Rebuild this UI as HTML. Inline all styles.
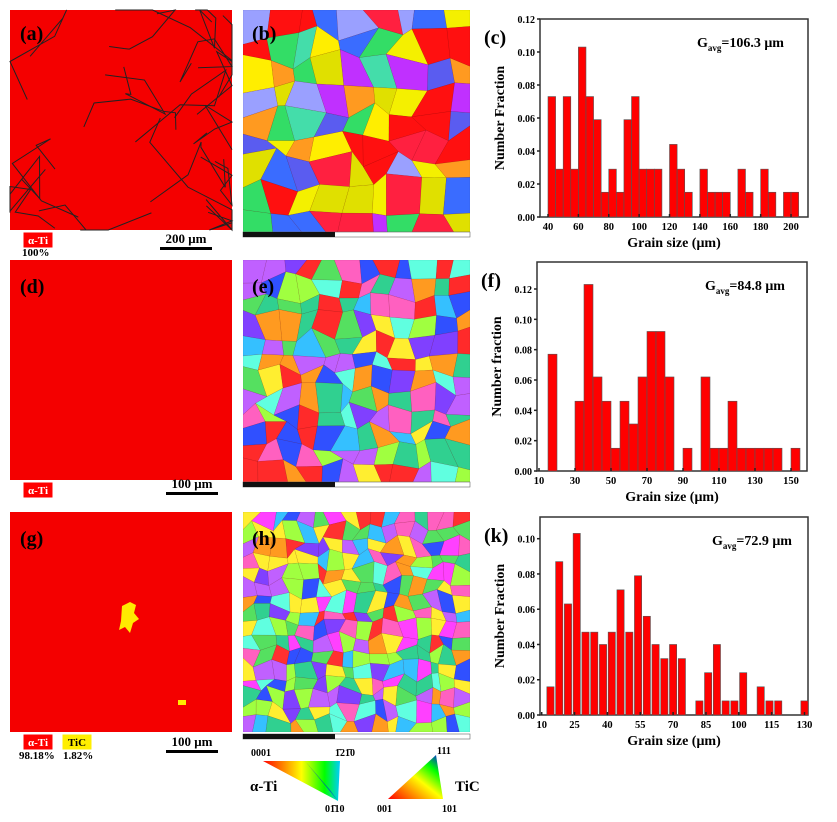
<!DOCTYPE html>
<html><head><meta charset="utf-8">
<style>
body{margin:0;background:#fff;width:837px;height:822px;overflow:hidden;font-family:"Liberation Serif",serif}
svg{position:absolute;left:0;top:0}
text{font-family:"Liberation Serif",serif;font-weight:bold}
</style></head>
<body>
<svg id="fig" width="837" height="822" viewBox="0 0 837 822"></svg>
<script>
// ---- histogram data ----
const cStarts=[40,45,50,55,60,65,70,75,80,85,90,95,100,105,110,115,120,125,130,135,140,145,150,155,160,165,170,175,180,185,190,195,200];
const cVals=[0.073,0.029,0.073,0.029,0.103,0.073,0.059,0.015,0.029,0.015,0.059,0.073,0.029,0.029,0.029,0,0.044,0.029,0.015,0,0.029,0.015,0.015,0.015,0,0.029,0.015,0,0.029,0.015,0,0.015,0.015];
const cXTicks=[40,60,80,100,120,140,160,180,200];
const cYTicks=[0,0.02,0.04,0.06,0.08,0.10,0.12];
const fStarts=[15,20,25,30,35,40,45,50,55,60,65,70,75,80,85,90,95,100,105,110,115,120,125,130,135,140,145,150];
const fVals=[0.077,0,0,0.046,0.123,0.062,0.046,0.015,0.046,0.031,0.062,0.092,0.092,0.062,0,0.015,0,0.062,0.015,0.015,0.046,0.015,0.015,0.015,0.015,0.015,0,0.015];
const fXTicks=[10,30,50,70,90,110,130,150];
const fYTicks=[0,0.02,0.04,0.06,0.08,0.10,0.12];
const kCenters=[14,18,22,26,30,34,38,42,46,50,54,58,62,66,70,74,78,82,86,90,94,98,102,106,110,114,118,122,126,130];
const kVals=[0.016,0.087,0.063,0.103,0.047,0.047,0.040,0.047,0.071,0.047,0.079,0.056,0.040,0.032,0.040,0.032,0,0.008,0.024,0.040,0.008,0.008,0.024,0,0.016,0.008,0.008,0,0,0.008];
const kXTicks=[10,25,40,55,70,85,100,115,130];
const kYTicks=[0,0.02,0.04,0.06,0.08,0.10];

const NS="http://www.w3.org/2000/svg";
const svg=document.getElementById('fig');
function mk(tag,attrs,parent){const e=document.createElementNS(NS,tag);for(const k in attrs)e.setAttribute(k,attrs[k]);(parent||svg).appendChild(e);return e;}
function txt(s,attrs,parent){const e=mk('text',attrs,parent);e.textContent=s;return e;}

function histogram(name,cfg,starts,vals,xt,yt,width,centered){
  const g=mk('g',{});
  
  
  const X=v=>cfg.x0+(v-cfg.v0)*cfg.sx;
  const Y=v=>cfg.yb-v*cfg.sy;
  const fr=mk('rect',{x:cfg.l,y:cfg.t,width:cfg.r-cfg.l,height:cfg.yb-cfg.t,fill:'#fff',stroke:'#333','stroke-width':1.5},g);
  
  
  starts.forEach((s,i)=>{
    if(vals[i]<=0)return;
    const x1=centered?X(s-width/2):X(s), x2=centered?X(s+width/2):X(s+width);
    const b=mk('rect',{x:x1,y:Y(vals[i]),width:x2-x1,height:Y(0)-Y(vals[i]),fill:'#f00',stroke:'#555','stroke-width':0.6},g);
    
    
  });
  xt.forEach(v=>{
    mk('line',{x1:X(v),x2:X(v),y1:cfg.yb,y2:cfg.yb-3,stroke:'#222','stroke-width':1.5},g);
    const t=txt(String(v),{x:X(v),y:cfg.yb+13,'font-size':10.5,'text-anchor':'middle'},g);
    
    
  });
  yt.forEach(v=>{
    mk('line',{x1:cfg.l-3,x2:cfg.l,y1:Y(v),y2:Y(v),stroke:'#222','stroke-width':1.5},g);
    const t=txt(v.toFixed(2),{x:cfg.l-5,y:Y(v)+4,'font-size':10,'text-anchor':'end'},g);
    
    
  });
  const xl=txt('Grain size (μm)',{x:(cfg.l+cfg.r)/2,y:cfg.yb+30,'font-size':14,'text-anchor':'middle'},g);
  
  
  const cy=(cfg.t+cfg.yb)/2;
  const yl=txt(cfg.ytitle,{x:cfg.l-36,y:cy,'font-size':14,'text-anchor':'middle',transform:`rotate(-90 ${cfg.l-36} ${cy})`},g);
  
  
  const ga=mk('text',{x:cfg.gx,y:cfg.t+28,'font-size':14},g);
  ga.innerHTML='G<tspan font-size="9" dy="4">avg</tspan><tspan dy="-4">='+cfg.gavg+' μm</tspan>';
  
  
  const pl=txt(cfg.label,{x:cfg.l-56,y:cfg.t+25,'font-size':20},g);
  
  
}
histogram('histogram-c',{l:540,r:808,t:19,yb:217,x0:548,v0:40,sx:1.519,sy:1650,ytitle:'Number Fraction',gavg:'106.3',gx:697,label:'(c)'},cStarts,cVals,cXTicks,cYTicks,5,false);
histogram('histogram-f',{l:537,r:807,t:262,yb:471,x0:539,v0:10,sx:1.8,sy:1516.7,ytitle:'Number fraction',gavg:'84.8',gx:705,label:'(f)'},fStarts,fVals,fXTicks,fYTicks,5,false);
histogram('histogram-k',{l:540,r:808,t:517,yb:715,x0:541.7,v0:10,sx:2.19,sy:1763,ytitle:'Number Fraction',gavg:'72.9',gx:712,label:'(k)'},kCenters,kVals,kXTicks,kYTicks,3.3,true);

// ---- maps ----
let seed=7;function rnd(){seed=(seed*16807)%2147483647;return (seed-1)/2147483646;}
function grains(name,x,y,w,h,n,pal){
  const g=mk('g',{});
  
  
  const cp=mk('clipPath',{id:name+'-clip'},g);mk('rect',{x,y,width:w,height:h},cp);
  const inner=mk('g',{'clip-path':`url(#${name}-clip)`},g);
  mk('rect',{x,y,width:w,height:h,fill:pal[0]},inner);
  const pts=[];
  for(let j=0;j<=n;j++){pts.push([]);for(let i=0;i<=n;i++){
    const jx=(i>0&&i<n)?(rnd()-0.5)*w/n*0.8:0, jy=(j>0&&j<n)?(rnd()-0.5)*h/n*0.8:0;
    pts[j].push([x+i*w/n+jx,y+j*h/n+jy]);}}
  for(let j=0;j<n;j++)for(let i=0;i<n;i++){
    const p=[pts[j][i],pts[j][i+1],pts[j+1][i+1],pts[j+1][i]].map(q=>q.join(',')).join(' ');
    mk('polygon',{points:p,fill:pal[Math.floor(rnd()*pal.length)],stroke:'rgba(0,0,0,0.15)','stroke-width':0.5},inner);
  }
  return g;
}
function redmap(name,x,y,w,h,boundaries){
  const r=mk('rect',{x,y,width:w,height:h,fill:'#f40000'});
  
  
  if(boundaries){
    for(let k=0;k<18;k++){
      let px=x+rnd()*w,py=y+rnd()*h,d=`M${px},${py}`;
      for(let s=0;s<5;s++){px=Math.min(x+w,Math.max(x,px+(rnd()-0.5)*90));py=Math.min(y+h,Math.max(y,py+(rnd()-0.5)*90));d+=` L${px},${py}`;}
      mk('path',{d,fill:'none',stroke:'#222','stroke-width':1});
    }
  }
}
redmap('phase-map-a',10,10,222,220,true);
redmap('phase-map-d',10,260,222,220,false);
redmap('phase-map-g',10,512,222,220,false);
mk('path',{d:'M122,606 l8,-4 l6,3 l-2,8 l5,6 l-6,4 l-3,10 l-5,-6 l-6,3 l2,-9 z',fill:'#ffea00'});
mk('rect',{x:178,y:700,width:8,height:5,fill:'#ffea00'});
grains('ipf-map-b',243,10,227,222,9,['#ff1010','#ffee00','#f4f000','#3a6cff','#5a5cf0','#33dd66','#44ddaa','#ff9a20','#c030ff','#e0e000','#ff2040','#9aa0ff']);
grains('ipf-map-e',243,260,227,222,12,['#ff2a2a','#ff9a20','#ffee30','#55e060','#30d090','#35c0ff','#3050ff','#8040ff','#c060ff','#ff60c0','#a0ff40','#60ffe0']);
grains('ipf-map-h',243,512,227,220,16,['#ff3030','#ff9a20','#ffee30','#55e060','#30d090','#35c0ff','#3050ff','#8040ff','#c060ff','#ff60c0','#a0ff40','#60ffe0','#ff40ff']);
[[232],[482],[734]].forEach(([yy])=>{mk('rect',{x:243,y:yy,width:227,height:5,fill:'#fff',stroke:'#666','stroke-width':0.6});mk('rect',{x:243,y:yy,width:92,height:5,fill:'#111'});});

// panel labels for maps
[['(a)',20,40],['(b)',252,40],['(d)',20,293],['(e)',252,293],['(g)',20,545],['(h)',252,545]].forEach(([s,x,y])=>{
  const t=txt(s,{x,y,'font-size':20});
  
  
});
// legends / scale bars
function tag(s,x,y,w,fill,color){const r=mk('rect',{x,y,width:w,height:16,fill,stroke:'#fff','stroke-width':1});txt(s,{x:x+w/2,y:y+12,'font-size':11,'text-anchor':'middle',fill:color});}
tag('α-Ti',23,232,30,'#f00','#fff');
txt('100%',{x:22,y:256,'font-size':11});
tag('α-Ti',23,482,30,'#f00','#fff');
tag('α-Ti',23,734,30,'#f00','#fff');
tag('TiC',62,734,30,'#ffee00','#000');
txt('98.18%',{x:19,y:759,'font-size':11});txt('1.82%',{x:63,y:759,'font-size':11});
[[162,243,'200 μm'],[168,488,'100 μm'],[168,746,'100 μm']].forEach(([x,y,s])=>{
  const t=txt(s,{x:x+24,y,'font-size':13,'text-anchor':'middle'});
  
  mk('rect',{x:x-2,y:y+4,width:52,height:3,fill:'#000'});
});
// IPF triangles
const defs=mk('defs',{});
const lg=mk('linearGradient',{id:'ti',x1:0,y1:0,x2:1,y2:0},defs);
[['0','#f00'],['0.5','#ff0'],['0.8','#0f0'],['1','#0cf']].forEach(([o,c])=>mk('stop',{offset:o,'stop-color':c},lg));
const lg2=mk('linearGradient',{id:'tic',x1:0,y1:1,x2:1,y2:0},defs);
[['0','#f00'],['0.5','#ff0'],['0.75','#0f0'],['1','#00f']].forEach(([o,c])=>mk('stop',{offset:o,'stop-color':c},lg2));
const t1=mk('path',{d:'M263,761 L340,761 L338,801 Z',fill:'url(#ti)'});

mk('path',{d:'M305,761 L338,801 L330,790 Z',fill:'#00f',opacity:0.6});
const t2=mk('path',{d:'M388,799 L443,799 L436,755 Z',fill:'url(#tic)'});

txt('0001',{x:251,y:756,'font-size':10});txt('1̄21̄0',{x:335,y:756,'font-size':10});
txt('01̄10',{x:325,y:812,'font-size':10});txt('α-Ti',{x:250,y:791,'font-size':15});
txt('111',{x:437,y:754,'font-size':10});txt('001',{x:377,y:812,'font-size':10});
txt('101',{x:442,y:812,'font-size':10});txt('TiC',{x:455,y:791,'font-size':15});
</script>
</body></html>
